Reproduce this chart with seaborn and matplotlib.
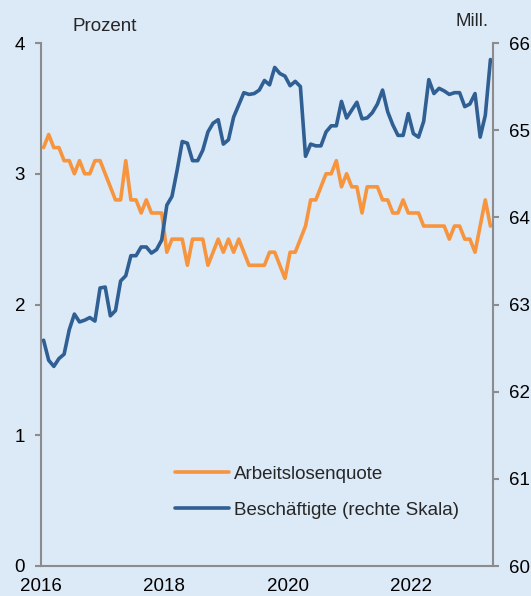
import numpy as np
import pandas as pd
import matplotlib.pyplot as plt
import seaborn as sns

# monthly data, Jan 2016 - Apr 2023
months = pd.date_range('2016-01-01', '2023-04-01', freq='MS')

arbeitslosenquote = [
    3.2, 3.3, 3.2, 3.2, 3.1, 3.1, 3.0, 3.1, 3.0, 3.0, 3.1, 3.1,
    3.0, 2.9, 2.8, 2.8, 3.1, 2.8, 2.8, 2.7, 2.8, 2.7, 2.7, 2.7,
    2.4, 2.5, 2.5, 2.5, 2.3, 2.5, 2.5, 2.5, 2.3, 2.4, 2.5, 2.4,
    2.5, 2.4, 2.5, 2.4, 2.3, 2.3, 2.3, 2.3, 2.4, 2.4, 2.3, 2.2,
    2.4, 2.4, 2.5, 2.6, 2.8, 2.8, 2.9, 3.0, 3.0, 3.1, 2.9, 3.0,
    2.9, 2.9, 2.7, 2.9, 2.9, 2.9, 2.8, 2.8, 2.7, 2.7, 2.8, 2.7,
    2.7, 2.7, 2.6, 2.6, 2.6, 2.6, 2.6, 2.5, 2.6, 2.6, 2.5, 2.5,
    2.4, 2.6, 2.8, 2.6,
]

beschaeftigte = [
    62.59, 62.36, 62.29, 62.38, 62.43, 62.71, 62.89, 62.80, 62.82, 62.85, 62.81, 63.19,
    63.20, 62.87, 62.93, 63.27, 63.33, 63.56, 63.56, 63.66, 63.66, 63.59, 63.63, 63.74,
    64.14, 64.24, 64.54, 64.87, 64.85, 64.65, 64.65, 64.77, 64.98, 65.08, 65.12, 64.84,
    64.89, 65.15, 65.29, 65.43, 65.41, 65.42, 65.46, 65.57, 65.52, 65.72, 65.65, 65.62,
    65.51, 65.56, 65.50, 64.70, 64.84, 64.82, 64.82, 64.98, 65.05, 65.05, 65.33, 65.14,
    65.23, 65.32, 65.13, 65.14, 65.20, 65.30, 65.46, 65.21, 65.06, 64.94, 64.94, 65.19,
    64.96, 64.92, 65.10, 65.58, 65.42, 65.48, 65.45, 65.41, 65.43, 65.43, 65.27, 65.30,
    65.42, 64.92, 65.17, 65.81,
]

df = pd.DataFrame({
    'Datum': months,
    'Arbeitslosenquote': arbeitslosenquote,
    'Beschaeftigte': beschaeftigte,
})
# plot at mid-month in decimal years
df['Jahr'] = df['Datum'].dt.year + (df['Datum'].dt.month - 0.5) / 12

bg = '#dce9f7'
orange = '#f7943e'
blue = '#2f5f93'
grey = '#8c8c8c'
fs = 13.5

sns.set_style('white')
plt.rcParams['font.family'] = ['Liberation Sans', 'DejaVu Sans']

fig = plt.figure(figsize=(5.31, 5.96), dpi=100, facecolor=bg)
ax = fig.add_axes([41 / 531, 1 - 566 / 596, (493 - 41) / 531, (566 - 43) / 596])
ax.set_facecolor(bg)
ax2 = ax.twinx()

sns.lineplot(data=df, x='Jahr', y='Arbeitslosenquote', ax=ax, color=orange, lw=2.6,
             label='Arbeitslosenquote', legend=False)
sns.lineplot(data=df, x='Jahr', y='Beschaeftigte', ax=ax2, color=blue, lw=2.6,
             label='Beschäftigte (rechte Skala)', legend=False)

ax.set_xlim(2016, 2016 + 88 / 12)
ax.set_ylim(0, 4)
ax2.set_ylim(60, 66)
ax.set_xticks(range(2016, 2024))
ax.set_xticklabels([str(y) if y % 2 == 0 else '' for y in range(2016, 2024)])
ax.set_yticks([0, 1, 2, 3, 4])
ax2.set_yticks(range(60, 67))
ax.set_xlabel('')
ax.set_ylabel('')
ax2.set_ylabel('')

for a in (ax, ax2):
    a.spines['top'].set_visible(False)
    for s in ('left', 'right', 'bottom'):
        a.spines[s].set_color(grey)
        a.spines[s].set_linewidth(1.5)
    a.tick_params(colors=grey, labelcolor='black', labelsize=fs, length=4.5, width=1.5)
ax2.spines['left'].set_visible(False)
ax.spines['right'].set_visible(False)
ax2.spines['bottom'].set_visible(False)
ax.tick_params(axis='y', pad=7)
ax2.tick_params(axis='y', pad=7)
ax.tick_params(axis='x', pad=4)

ax.text(0.07, 1.015, 'Prozent', transform=ax.transAxes, fontsize=fs, va='bottom', ha='left')
ax2.text(0.99, 1.025, 'Mill.', transform=ax2.transAxes, fontsize=fs, va='bottom', ha='right')

h1, l1 = ax.get_legend_handles_labels()
h2, l2 = ax2.get_legend_handles_labels()
ax2.legend(h1 + h2, l1 + l2, loc='lower left', bbox_to_anchor=(0.28, 0.076), borderaxespad=0,
           frameon=False, fontsize=fs, handlelength=2.9, handletextpad=0.25, labelspacing=1.0)

fig.savefig('out.png', dpi=100, facecolor=bg)
